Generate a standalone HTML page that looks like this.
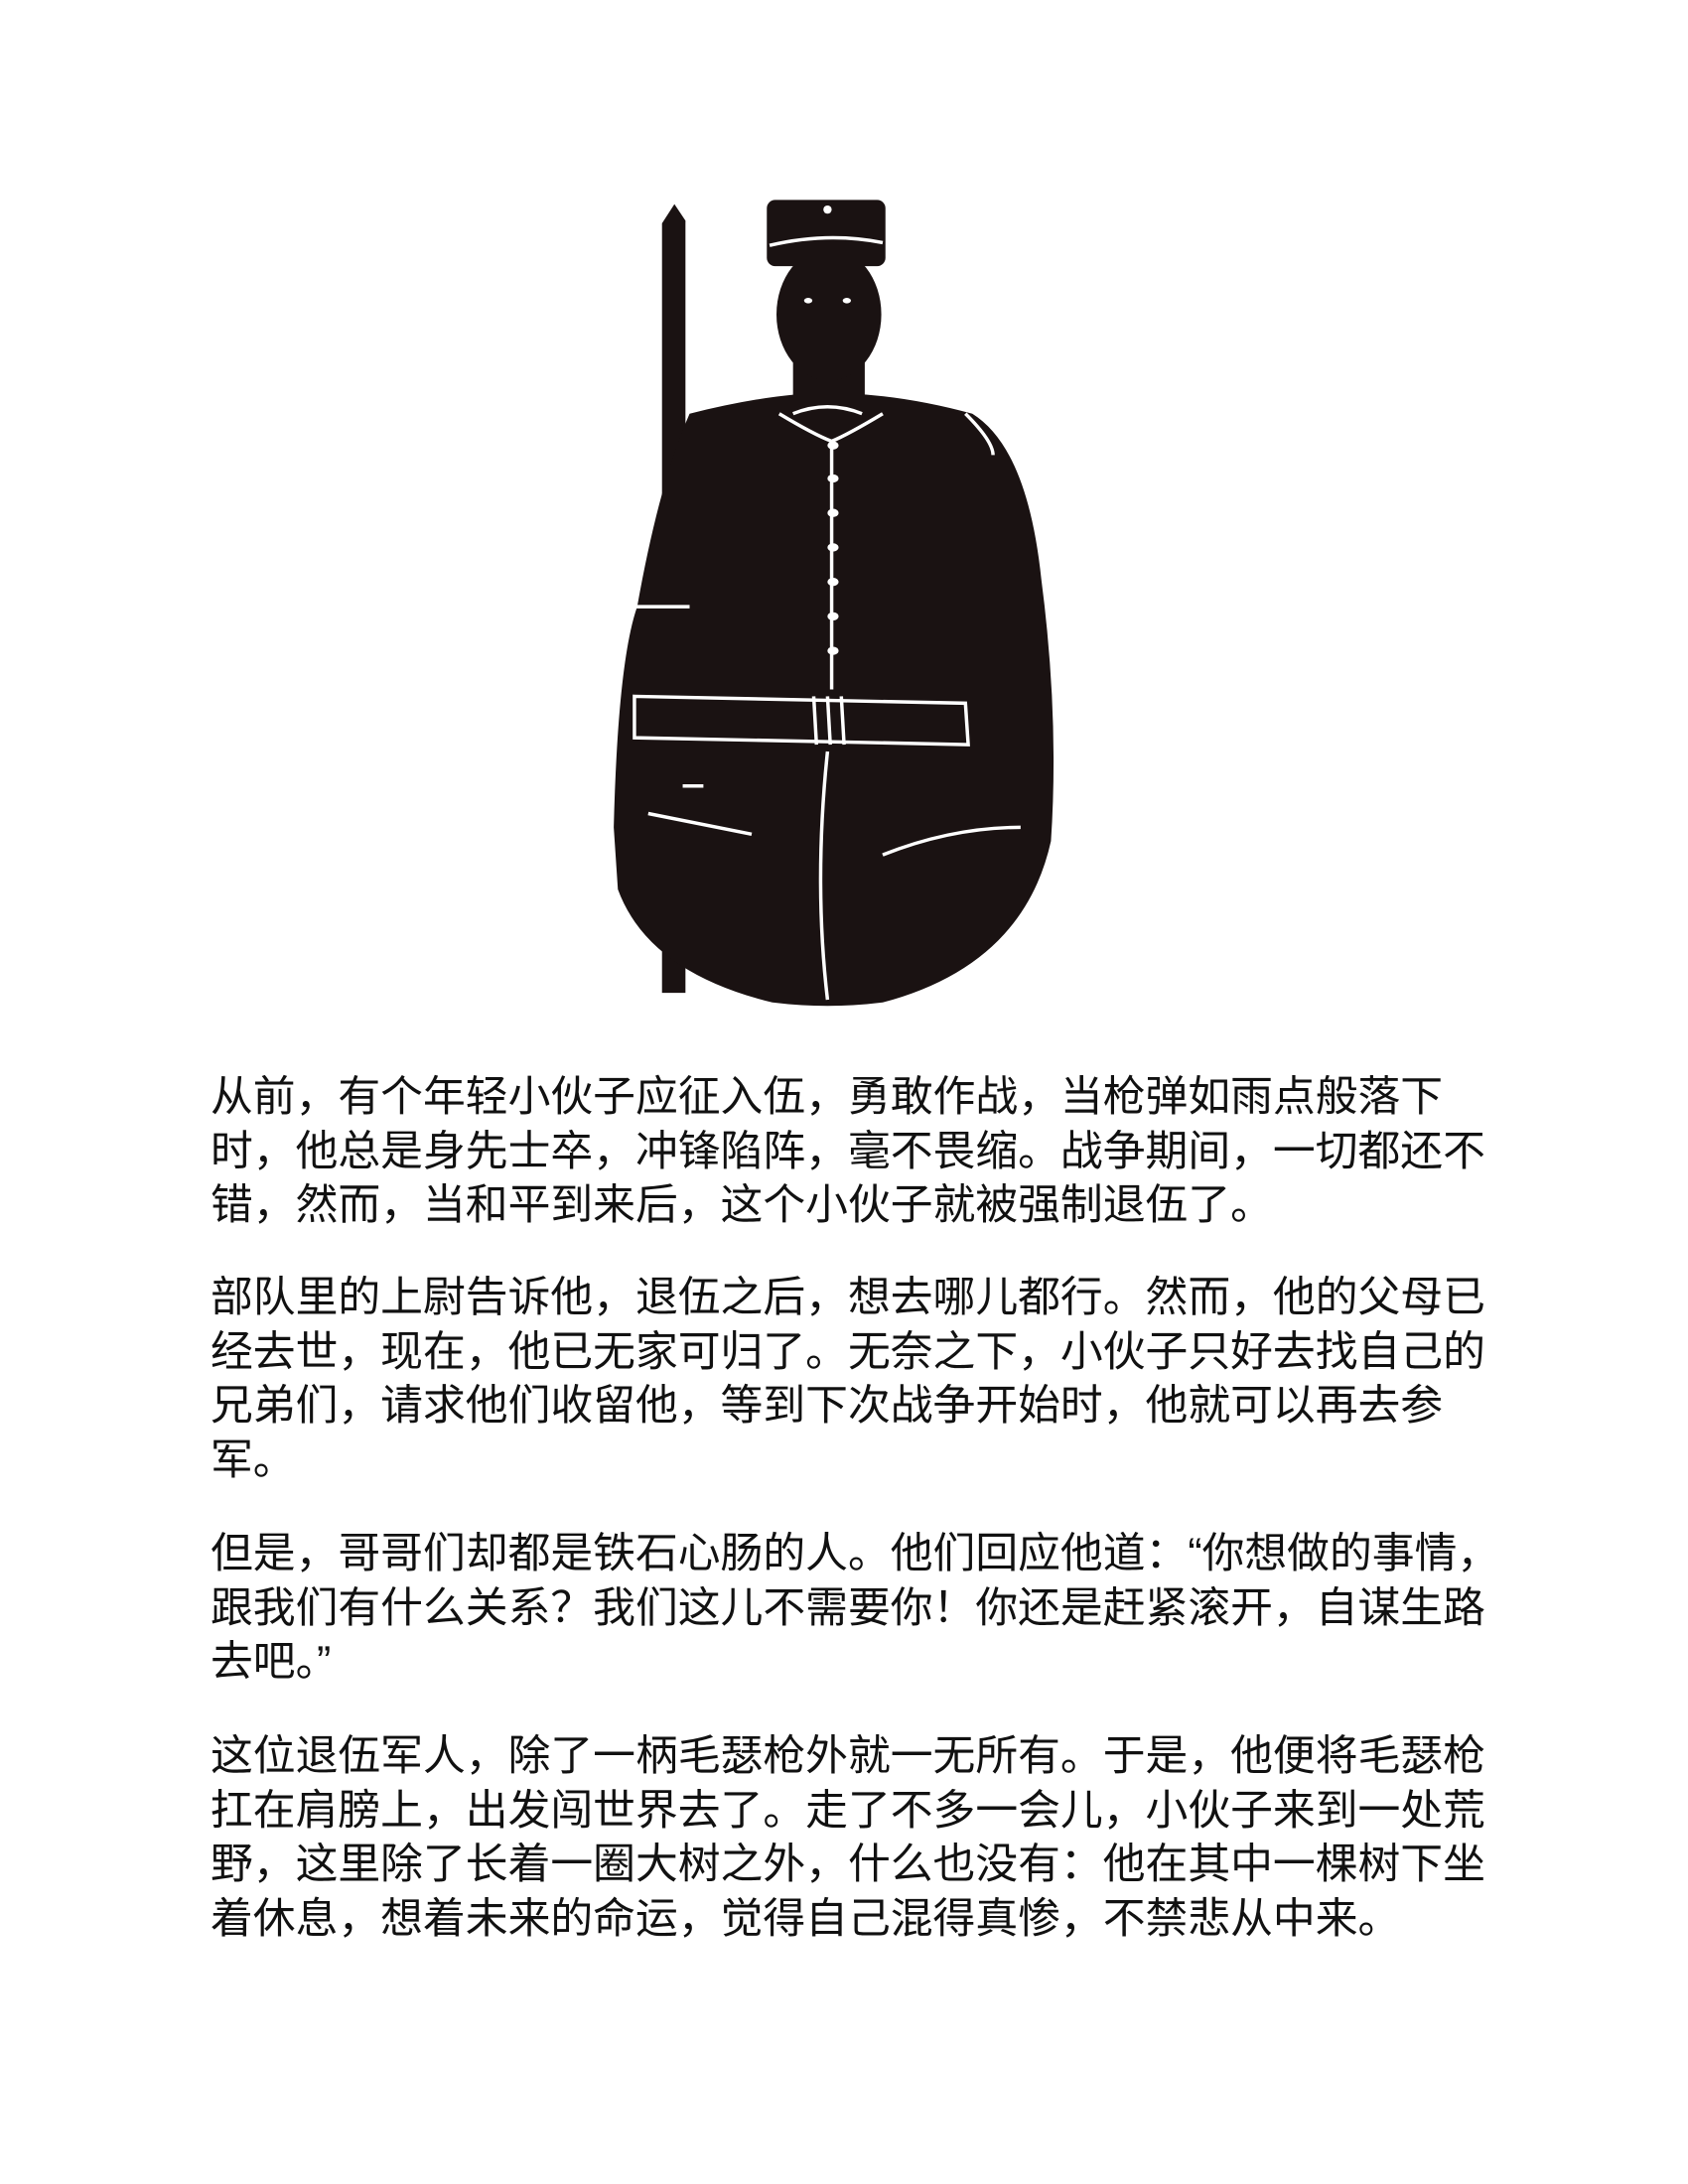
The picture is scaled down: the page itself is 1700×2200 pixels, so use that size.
<!DOCTYPE html>
<html><head><meta charset="utf-8">
<style>
html,body{margin:0;padding:0;background:#fff}
body{width:1700px;height:2200px;position:relative;overflow:hidden}
.p{position:absolute;left:212px;font-family:"Liberation Sans","Noto Sans CJK SC",sans-serif;font-size:42.8px;line-height:54.5px;color:#111;white-space:nowrap}
</style></head>
<body>
<svg width="1700" height="1030" style="position:absolute;left:0;top:0">
<g transform="scale(1.389)">
<polygon points="480,162 489,148 497,160 497,720 480,720" fill="#1a1212"/>
<path d="M500 300 Q560 285 600 285 Q650 285 705 300 Q745 325 755 420 Q768 520 762 610 Q742 700 640 727 Q600 732 560 727 Q470 705 448 645 L445 600 Q448 480 462 440 Q478 350 500 300 Z" fill="#1a1212"/>
<rect x="575" y="250" width="52" height="55" fill="#1a1212"/>
<ellipse cx="601" cy="228" rx="38" ry="48" fill="#1a1212"/>
<rect x="556" y="145" width="86" height="48" rx="6" fill="#1a1212"/>
<g fill="none" stroke="#fff" stroke-width="2.5">
<path d="M558 178 Q600 168 640 176"/>
<path d="M575 300 Q600 290 625 300"/>
<path d="M565 300 Q590 315 603 320 Q615 315 640 300"/>
<path d="M603 320 L603 500"/>
<path d="M460 505 L700 510 L702 540 L460 535 Z"/>
<path d="M590 505 L592 540 M600 505 L602 540 M610 505 L612 540"/>
<path d="M458 440 L500 440 M495 570 L510 570"/>
<path d="M600 545 Q590 640 600 725"/>
<path d="M470 590 Q520 600 545 605"/>
<path d="M640 620 Q690 600 740 600"/>
<path d="M700 300 Q720 320 720 330"/>
</g>
<g fill="#fff">
<ellipse cx="604" cy="323" rx="4" ry="3"/><ellipse cx="604" cy="347" rx="4" ry="3"/>
<ellipse cx="604" cy="372" rx="4" ry="3"/><ellipse cx="604" cy="397" rx="4" ry="3"/>
<ellipse cx="604" cy="422" rx="4" ry="3"/><ellipse cx="604" cy="447" rx="4" ry="3"/>
<ellipse cx="604" cy="472" rx="4" ry="3"/>
<circle cx="600" cy="152" r="3"/>
<ellipse cx="586" cy="218" rx="3" ry="2"/><ellipse cx="614" cy="218" rx="3" ry="2"/>
</g>
</g>
</svg>
<div class="p" style="top:1078px">从前，有个年轻小伙子应征入伍，勇敢作战，当枪弹如雨点般落下<br>时，他总是身先士卒，冲锋陷阵，毫不畏缩。战争期间，一切都还不<br>错，然而，当和平到来后，这个小伙子就被强制退伍了。</div>
<div class="p" style="top:1280px">部队里的上尉告诉他，退伍之后，想去哪儿都行。然而，他的父母已<br>经去世，现在，他已无家可归了。无奈之下，小伙子只好去找自己的<br>兄弟们，请求他们收留他，等到下次战争开始时，他就可以再去参<br>军。</div>
<div class="p" style="top:1538px">但是，哥哥们却都是铁石心肠的人。他们回应他道：“你想做的事情，<br>跟我们有什么关系？我们这儿不需要你！你还是赶紧滚开，自谋生路<br>去吧。”</div>
<div class="p" style="top:1742px">这位退伍军人，除了一柄毛瑟枪外就一无所有。于是，他便将毛瑟枪<br>扛在肩膀上，出发闯世界去了。走了不多一会儿，小伙子来到一处荒<br>野，这里除了长着一圈大树之外，什么也没有：他在其中一棵树下坐<br>着休息，想着未来的命运，觉得自己混得真惨，不禁悲从中来。</div>
</body></html>
